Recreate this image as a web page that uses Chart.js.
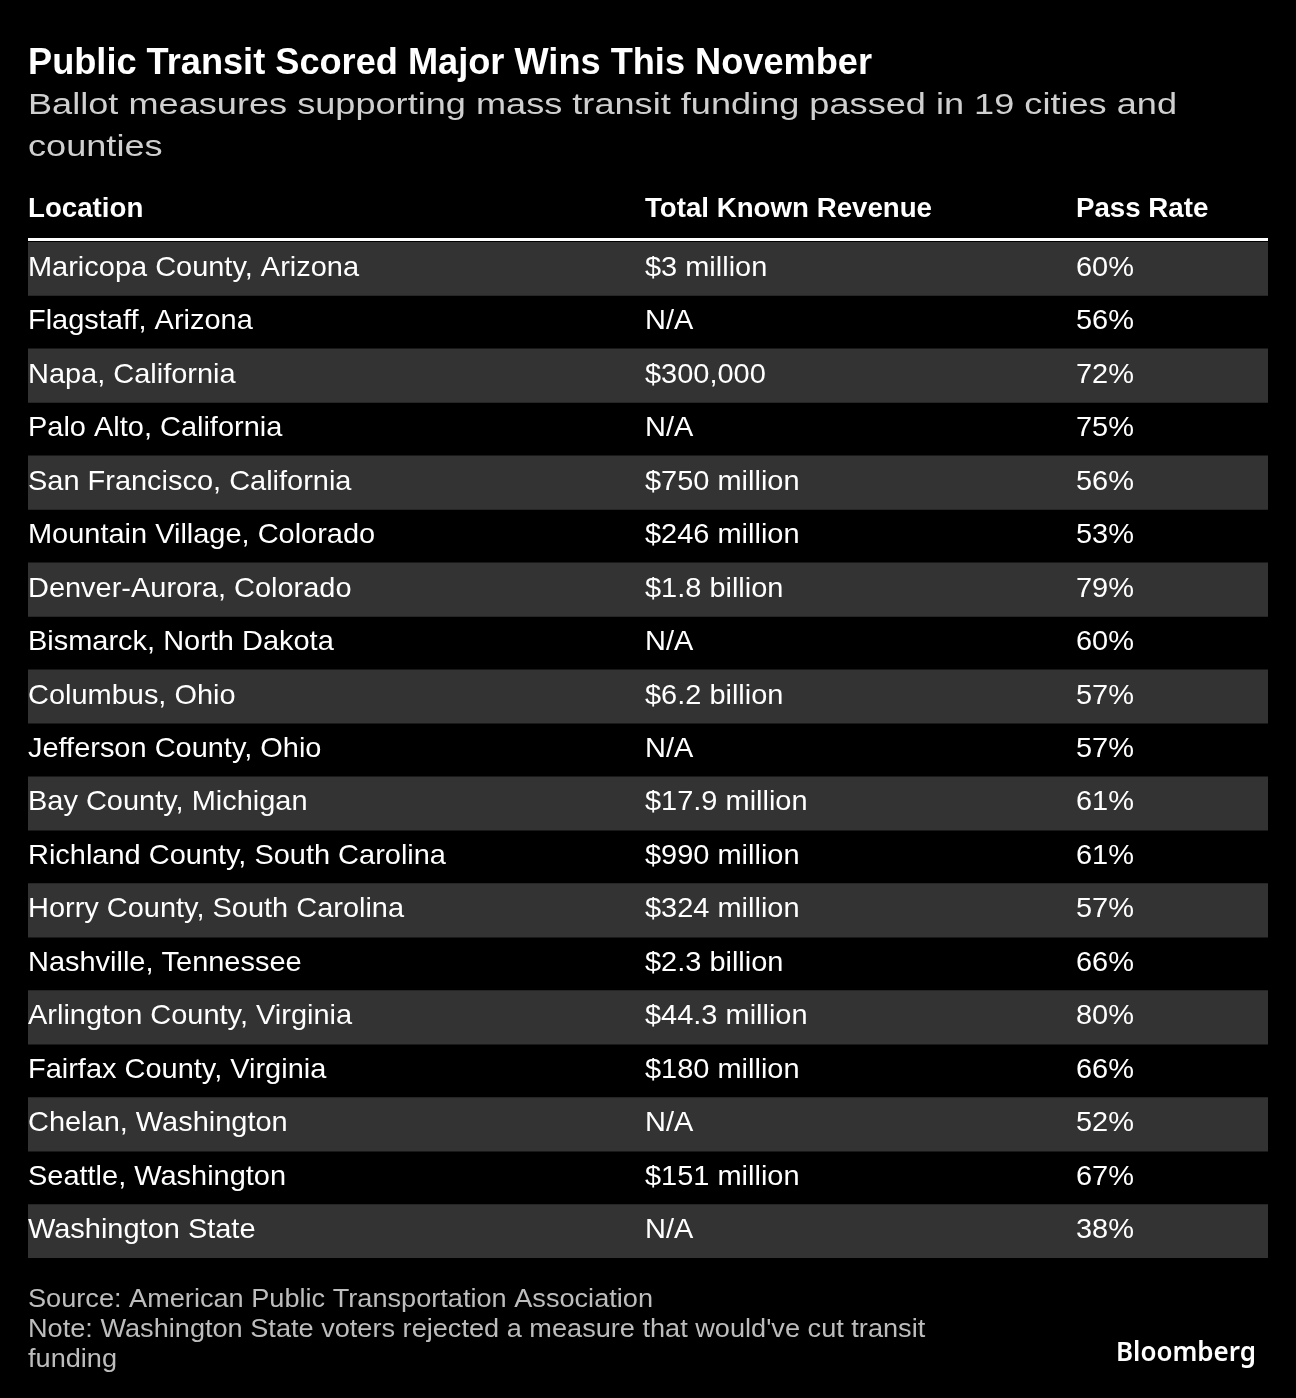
<!DOCTYPE html>
<html>
<head>
<meta charset="utf-8">
<script src="https://cdn.jsdelivr.net/npm/chart.js@4"></script>
<style>
  html, body { margin: 0; padding: 0; background: #000; }
  #wrap { position: relative; width: 1296px; height: 1398px; }
</style>
</head>
<body>
<div id="wrap"><canvas id="tableChart"></canvas></div>
<script>
// DATA

const locations = [
  "Maricopa County, Arizona",
  "Flagstaff, Arizona",
  "Napa, California",
  "Palo Alto, California",
  "San Francisco, California",
  "Mountain Village, Colorado",
  "Denver-Aurora, Colorado",
  "Bismarck, North Dakota",
  "Columbus, Ohio",
  "Jefferson County, Ohio",
  "Bay County, Michigan",
  "Richland County, South Carolina",
  "Horry County, South Carolina",
  "Nashville, Tennessee",
  "Arlington County, Virginia",
  "Fairfax County, Virginia",
  "Chelan, Washington",
  "Seattle, Washington",
  "Washington State"
];

const revenues = [
  "$3 million", "N/A", "$300,000", "N/A", "$750 million", "$246 million",
  "$1.8 billion", "N/A", "$6.2 billion", "N/A", "$17.9 million",
  "$990 million", "$324 million", "$2.3 billion", "$44.3 million",
  "$180 million", "N/A", "$151 million", "N/A"
];

const passRates = [60, 56, 72, 75, 56, 53, 79, 60, 57, 57, 61, 61, 57, 66, 80, 66, 52, 67, 38];

const headers = ["Location", "Total Known Revenue", "Pass Rate"];

const title = "Public Transit Scored Major Wins This November";
const subtitle = [
  "Ballot measures supporting mass transit funding passed in 19 cities and",
  "counties"
];
const footnotes = [
  "Source: American Public Transportation Association",
  "Note: Washington State voters rejected a measure that would've cut transit",
  "funding"
];

// STYLE

const FONT = "'Liberation Sans', Arial, Helvetica, sans-serif";
const STRIPE = "#333333";
const colX = [28, 645, 1076];

// stretch factor so a sample string hits a target width
function stretchFor(ctx, font, sample, target) {
  ctx.font = font;
  return target / ctx.measureText(sample).width;
}

function drawText(ctx, text, x, y, font, color, sx) {
  ctx.save();
  ctx.font = font;
  ctx.fillStyle = color;
  ctx.textBaseline = "alphabetic";
  ctx.translate(x, y);
  ctx.scale(sx || 1, 1);
  ctx.fillText(text, 0, 0);
  ctx.restore();
}

// TABLE TEXT PLUGIN

const tablePlugin = {
  id: "tableText",
  afterDatasetsDraw(chart) {
    const ctx = chart.ctx;
    const area = chart.chartArea;
    const yScale = chart.scales.y;

    // title + subtitle
    const titleFont = "bold 36px " + FONT;
    drawText(ctx, title, 28, 74, titleFont, "#ffffff",
      stretchFor(ctx, titleFont, title, 844));

    const subFont = "30px " + FONT;
    const subSx = stretchFor(ctx, subFont, subtitle[0], 1149);
    subtitle.forEach((line, i) => {
      drawText(ctx, line, 28, 114 + i * 42, subFont, "#cfcfcf", subSx);
    });

    // header row
    const headFont = "bold 27px " + FONT;
    const headSx = stretchFor(ctx, headFont, headers[1], 287);
    headers.forEach((h, i) => {
      drawText(ctx, h, colX[i], 217, headFont, "#ffffff", headSx);
    });

    // rule under the header
    ctx.save();
    ctx.fillStyle = "#ffffff";
    ctx.fillRect(area.left, area.top - 4, area.right - area.left, 3);
    ctx.restore();

    // body cells
    const cellFont = "28px " + FONT;
    const cellSx = stretchFor(ctx, cellFont, locations[0], 331);
    locations.forEach((loc, i) => {
      const y = yScale.getPixelForValue(i) + 7;
      drawText(ctx, loc, colX[0], y, cellFont, "#ffffff", cellSx);
      drawText(ctx, revenues[i], colX[1], y, cellFont, "#ffffff", cellSx);
      drawText(ctx, passRates[i] + "%", colX[2], y, cellFont, "#ffffff", cellSx);
    });

    // footnotes
    const footFont = "26px " + FONT;
    const footSx = stretchFor(ctx, footFont, footnotes[0], 625);
    footnotes.forEach((line, i) => {
      drawText(ctx, line, 28, area.bottom + 49 + i * 30, footFont, "#bdbdbd", footSx);
    });

    // logo
    const logoFont = "600 27px 'Noto Sans', sans-serif";
    const logoSx = stretchFor(ctx, logoFont, "Bloomberg", 140);
    drawText(ctx, "Bloomberg", 1256 - 140, area.bottom + 103, logoFont, "#ffffff", logoSx);
  }
};

// CHART

const ctx = document.getElementById("tableChart");

new Chart(ctx, {
  type: "bar",
  data: {
    labels: locations,
    datasets: [{
      label: "rows",
      // full-width stripe on every other row
      data: locations.map(() => 1),
      backgroundColor: locations.map((_, i) => i % 2 === 0 ? STRIPE : "rgba(0,0,0,0)"),
      borderWidth: 0,
      barPercentage: 1,
      categoryPercentage: 1
    }]
  },
  options: {
    indexAxis: "y",
    responsive: true,
    maintainAspectRatio: false,
    animation: false,
    events: [],
    layout: {
      padding: { top: 242, bottom: 140, left: 28, right: 28 }
    },
    plugins: {
      legend: { display: false },
      tooltip: { enabled: false }
    },
    scales: {
      x: { display: false, min: 0, max: 1 },
      y: { display: false }
    }
  },
  plugins: [tablePlugin]
});
</script>
</body>
</html>
